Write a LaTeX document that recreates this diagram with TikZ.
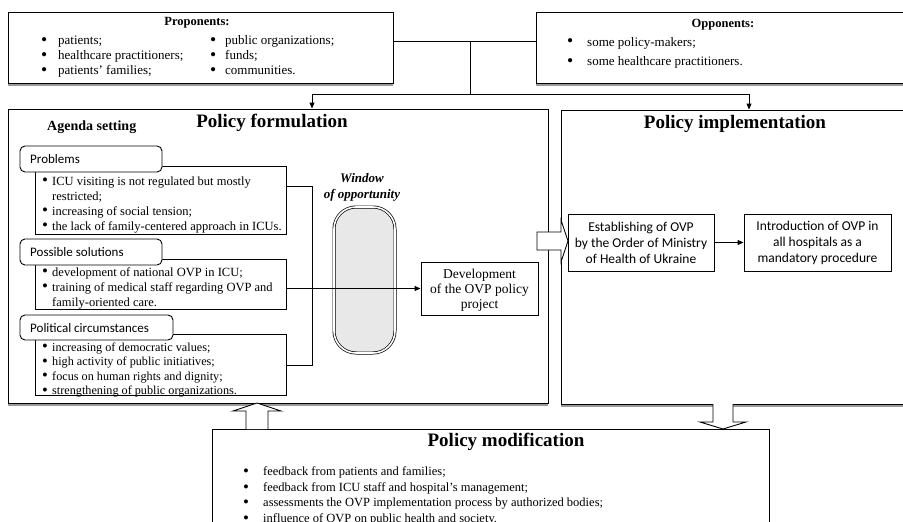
\documentclass[tikz,border=0pt]{standalone}
\usepackage{fontspec}
\usepackage{graphicx}
\setmainfont{Liberation Serif}
\newfontfamily\calib{Carlito}
\usetikzlibrary{arrows.meta}
\newcommand{\bul}[1]{\makebox[#1][l]{\raisebox{-0.15ex}{\scalebox{1.35}{\textbullet}}}}
\begin{document}
\begin{tikzpicture}[x=1pt,y=-1pt,
 box/.style={draw, line width=0.9pt, fill=white, inner sep=0pt},
 tabbox/.style={draw, line width=0.9pt, fill=white, rounded corners=5pt, inner sep=0pt},
 ln/.style={line width=0.9pt},
 arr/.style={line width=0.9pt, -{Triangle[length=6pt,width=5pt]}},
 shd/.style={line width=1.6pt, draw=black!40},
 blk/.style={line width=0.9pt, fill=white},
 ttl/.style={font={\fontsize{19}{22}\selectfont\bfseries}, inner sep=0pt},
 hdr/.style={font={\fontsize{12.5}{14}\selectfont\bfseries}, inner sep=0pt},
 lst/.style={inner sep=0pt, anchor=base west},
 tabtxt/.style={font={\calib\fontsize{13}{15}\selectfont}, inner sep=0pt, anchor=west},
 sanstxt/.style={font={\calib\fontsize{13.5}{16}\selectfont}, align=center, inner sep=0pt},
]
\useasboundingbox (0,0) rectangle (903,522);
\clip (0,0) rectangle (903,522);
\fill[white] (0,0) rectangle (903,522);

% big boxes
\node[box, minimum width=540pt, minimum height=294pt] (form) at (278,256) {};
\node[box, minimum width=345pt, minimum height=294pt] (impl) at (733.5,257) {};
\node[box, minimum width=385pt, minimum height=71pt] (prop) at (200.5,47.5) {};
\node[box, minimum width=370pt, minimum height=71pt] (opp) at (721,47.5) {};
\node[box, minimum width=557pt, minimum height=111pt] (mod) at (490.5,484.5) {};
\foreach \b in {prop,opp,form,impl}
  \draw[shd] ([yshift=-1.5pt]\b.south west) -- ([yshift=-1.5pt]\b.south east);

% agenda sub-boxes
\node[box, minimum width=251pt, minimum height=68pt] (probbox) at (160.5,200) {};
\node[tabbox, minimum width=142pt, minimum height=26pt] (probtab) at (91,159) {};
\node[box, minimum width=251pt, minimum height=50pt] (solbox) at (160.5,284) {};
\node[tabbox, minimum width=142pt, minimum height=26pt] (soltab) at (91,252) {};
\node[box, minimum width=251pt, minimum height=61pt] (polbox) at (160.5,364.5) {};
\node[tabbox, minimum width=153pt, minimum height=25pt] (poltab) at (96.5,327.5) {};

% window of opportunity
\node[draw, line width=0.7pt, double=white, double distance=1.6pt, fill=black!9,
      rounded corners=22pt, minimum width=61pt, minimum height=146pt, inner sep=0pt]
      (win) at (364.5,280) {};
\node[font={\fontsize{13}{16}\selectfont\bfseries\itshape}, align=center, inner sep=0pt]
      (wintxt) at (362,187) {Window\\of opportunity};

% development
\node[box, minimum width=117pt, minimum height=53pt] (dev) at (479.5,288.5) {};
\node[font={\fontsize{13.5}{15}\selectfont}, align=center, inner sep=0pt] (devtxt) at (479.5,290)
  {Development\\of the OVP policy\\project};

% implementation steps
\node[box, minimum width=146pt, minimum height=57pt] (est) at (641,242.5) {};
\node[sanstxt] (esttxt) at (641,243) {Establishing of OVP\\by the Order of Ministry\\of Health of Ukraine};
\node[box, minimum width=147pt, minimum height=57pt] (intro) at (817.5,242.5) {};
\node[sanstxt] (introtxt) at (817.5,243) {Introduction of OVP in\\all hospitals as a\\mandatory procedure};

% titles
\node[ttl] (formttl) at (272,123) {Policy formulation};
\node[ttl] (implttl) at (735,124) {Policy implementation};
\node[ttl] (modttl) at (506,442) {Policy modification};
\node[font={\fontsize{14}{16}\selectfont\bfseries}, inner sep=0pt, anchor=west] (agenda) at (47,127) {Agenda setting};
\node[hdr] (propttl) at (197,23) {Proponents:};
\node[hdr] (oppttl) at (723,25) {Opponents:};

% tab labels
\node[tabtxt] (probl) at (30,159) {Problems};
\node[tabtxt] (soll) at (30,252) {Possible solutions};
\node[tabtxt] (poll) at (30,328) {Political circumstances};

% lists
\node[lst, font={\fontsize{13}{15}\selectfont}] (propa) at (41,45)
 {\begin{tabular}[t]{@{}l@{}l@{}}\bul{17pt}&patients;\\ \bul{17pt}&healthcare practitioners;\\ \bul{17pt}&patients' families;\end{tabular}};
\node[lst, font={\fontsize{13}{15}\selectfont}] (propb) at (210,45)
 {\begin{tabular}[t]{@{}l@{}l@{}}\bul{15pt}&public organizations;\\ \bul{15pt}&funds;\\ \bul{15pt}&communities.\end{tabular}};
\node[lst, font={\fontsize{13}{19.5}\selectfont}] (oppl) at (567,46)
 {\begin{tabular}[t]{@{}l@{}l@{}}\bul{20pt}&some policy-makers;\\ \bul{20pt}&some healthcare practitioners.\end{tabular}};
\node[lst, font={\fontsize{12.5}{15}\selectfont}] (probt) at (42,185)
 {\begin{tabular}[t]{@{}l@{}l@{}}\bul{10pt}&ICU visiting is not regulated but mostly\\ &restricted;\\ \bul{10pt}&increasing of social tension;\\ \bul{10pt}&the lack of family-centered approach in ICUs.\end{tabular}};
\node[lst, font={\fontsize{12.5}{15}\selectfont}] (solt) at (42,276)
 {\begin{tabular}[t]{@{}l@{}l@{}}\bul{10pt}&development of national OVP in ICU;\\ \bul{10pt}&training of medical staff regarding OVP and\\ &family-oriented care.\end{tabular}};
\node[lst, font={\fontsize{12.2}{14.5}\selectfont}] (polt) at (42,351)
 {\begin{tabular}[t]{@{}l@{}l@{}}\bul{10pt}&increasing of democratic values;\\ \bul{10pt}&high activity of public initiatives;\\ \bul{10pt}&focus on human rights and dignity;\\ \bul{10pt}&strengthening of public organizations.\end{tabular}};
\node[lst, font={\fontsize{12.5}{15.7}\selectfont}] (modt) at (243,475.5)
 {\begin{tabular}[t]{@{}l@{}l@{}}\bul{20pt}&feedback from patients and families;\\ \bul{20pt}&feedback from ICU staff and hospital's management;\\ \bul{20pt}&assessments the OVP implementation process by authorized bodies;\\ \bul{20pt}&influence of OVP on public health and society.\end{tabular}};

% top connectors
\coordinate (jt) at (470,41);
\coordinate (jb) at (470,94);
\coordinate (ja) at (312,94);
\coordinate (jc) at (749,94);
\draw[ln] (prop.east |- jt) -- (opp.west |- jt);
\draw[ln] (jt) -- (jb);
\draw[ln] (ja) -- (jc);
\draw[arr] (ja) -- (ja |- form.north);
\draw[arr] (jc) -- (jc |- impl.north);

% agenda bracket and arrow
\coordinate (brt) at (312,186);
\coordinate (brb) at (312,365);
\draw[ln] (probbox.east |- brt) -- (brt) -- (brb) -- (polbox.east |- brb);
\draw[arr] (solbox.east |- dev.west) -- (dev.west);
\draw[arr] (est) -- (intro);

% block arrows
\draw[blk] (537,232) -- (561,232) -- (561,220) -- (568,241) -- (561,262) -- (561,250) -- (537,250) -- cycle;
\draw[blk] (246,429) -- (246,411) -- (233,411) -- (257,403) -- (281,411) -- (268,411) -- (268,429);
\draw[blk] (713,404) -- (713,422) -- (700,422) -- (723,429) -- (746,422) -- (733,422) -- (733,404);
\end{tikzpicture}
\end{document}
